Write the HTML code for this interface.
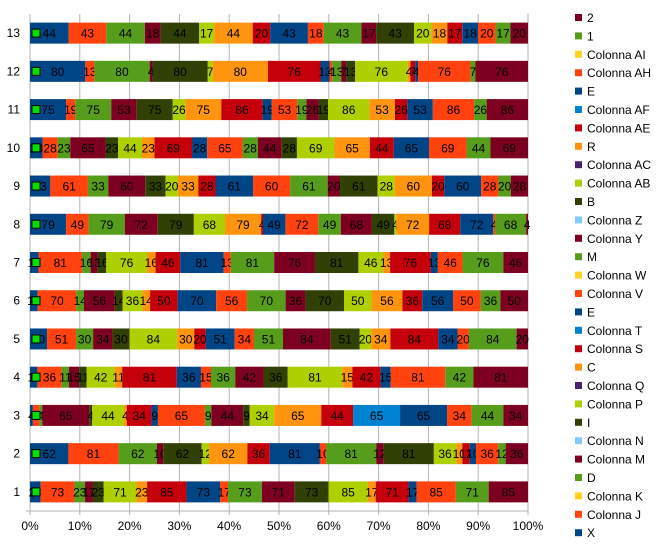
<!DOCTYPE html>
<html><head><meta charset="utf-8"><style>
body{margin:0;background:#fff;font-family:"Liberation Sans",sans-serif}
svg text{font-family:"Liberation Sans",sans-serif}
</style></head><body>
<svg id="c" width="665" height="552"></svg>
<script>
const categories=["1","2","3","4","5","6","7","8","9","10","11","12","13"];
const sX=[23,62,4,11,30,14,16,79,33,23,75,80,44];
const sColJ=[73,81,9,36,51,70,81,49,61,28,19,13,43];
const sColK=[0,0,0,0,0,0,0,0,0,0,0,0,0];
const sD=[23,62,4,11,30,14,16,79,33,23,75,80,44];
const sColM=[17,10,65,15,34,56,13,72,60,65,53,4,18];
const sColN=[0,0,0,0,0,0,0,0,0,0,0,0,0];
const sI=[23,62,4,11,30,14,16,79,33,23,75,80,44];
const sColP=[71,12,44,42,84,36,76,68,20,44,26,7,17];
const sColQ=[0,0,0,0,0,0,0,0,0,0,0,0,0];
const sC=[23,62,4,11,30,14,16,79,33,23,75,80,44];
const sColS=[85,36,34,81,20,50,46,4,28,69,86,76,20];
const sColT=[0,0,0,0,0,0,0,0,0,0,0,0,0];
const sE=[73,81,9,36,51,70,81,49,61,28,19,13,43];
const sColV=[17,10,65,15,34,56,13,72,60,65,53,4,18];
const sColW=[0,0,0,0,0,0,0,0,0,0,0,0,0];
const sM=[73,81,9,36,51,70,81,49,61,28,19,13,43];
const sColY=[71,12,44,42,84,36,76,68,20,44,26,7,17];
const sColZ=[0,0,0,0,0,0,0,0,0,0,0,0,0];
const sB=[73,81,9,36,51,70,81,49,61,28,19,13,43];
const sColAB=[85,36,34,81,20,50,46,4,28,69,86,76,20];
const sColAC=[0,0,0,0,0,0,0,0,0,0,0,0,0];
const sR=[17,10,65,15,34,56,13,72,60,65,53,4,18];
const sColAE=[71,12,44,42,84,36,76,68,20,44,26,7,17];
const sColAF=[0,0,65,0,0,0,0,0,0,0,0,0,0];
const sE2=[17,10,65,15,34,56,13,72,60,65,53,4,18];
const sColAH=[85,36,34,81,20,50,46,4,28,69,86,76,20];
const sColAI=[0,0,0,0,0,0,0,0,0,0,0,0,0];
const s1=[71,12,44,42,84,36,76,68,20,44,26,7,17];
const s2=[85,36,34,81,20,50,46,4,28,69,86,76,20];
const seriesNames=["X","Colonna J","Colonna K","D","Colonna M","Colonna N","I","Colonna P","Colonna Q","C","Colonna S","Colonna T","E","Colonna V","Colonna W","M","Colonna Y","Colonna Z","B","Colonna AB","Colonna AC","R","Colonna AE","Colonna AF","E","Colonna AH","Colonna AI","1","2"];
const seriesData=[sX,sColJ,sColK,sD,sColM,sColN,sI,sColP,sColQ,sC,sColS,sColT,sE,sColV,sColW,sM,sColY,sColZ,sB,sColAB,sColAC,sR,sColAE,sColAF,sE2,sColAH,sColAI,s1,s2];
const xTicks=["0%","10%","20%","30%","40%","50%","60%","70%","80%","90%","100%"];
const palette=["#004586","#ff420e","#ffd320","#579d1c","#7e0021","#83caff","#314004","#aecf00","#4b1f6f","#ff950e","#c5000b","#0084d1"];
const NS="http://www.w3.org/2000/svg";
const svg=document.getElementById('c');
function mk(t,a,p){const e=document.createElementNS(NS,t);for(const k in a)e.setAttribute(k,a[k]);(p||svg).appendChild(e);return e;}
const L=30,R=528,T=14,B=511;
const band=(B-T)/categories.length,barH=21;
const xs=f=>L+f*(R-L);
const yc=i=>B-band*(i+0.5);
const grid=mk('g',{});


xTicks.forEach((t,i)=>{const x=xs(i/10);
 const l=mk('line',{x1:x,x2:x,y1:T,y2:B+4,stroke:'#b3b3b3','stroke-width':1},grid);
 
 
 const tx=mk('text',{x:x,y:530,'font-size':12,'text-anchor':'middle',fill:'#000'});
 tx.textContent=t;
 
 
});
mk('line',{x1:L,x2:L,y1:T,y2:B,stroke:'#b3b3b3'});
mk('line',{x1:L-4,x2:R,y1:B,y2:B,stroke:'#b3b3b3'});
categories.forEach((c,i)=>{
 const tx=mk('text',{x:20,y:yc(i)+4,'font-size':12,'text-anchor':'end'});
 tx.textContent=c;
 
 
 let tot=0;seriesData.forEach(s=>tot+=s[i]);
 let acc=0;
 seriesData.forEach((s,k)=>{const v=s[i];if(!v)return;
  const x0=xs(acc/tot),x1=xs((acc+v)/tot);acc+=v;
  const r=mk('rect',{x:x0,y:yc(i)-barH/2,width:x1-x0,height:barH,fill:palette[k%12]});
  
  
  const t=mk('text',{x:(x0+x1)/2,y:yc(i)+4.5,'font-size':12,'text-anchor':'middle',fill:'#000'});
  t.textContent=v;
  
  
 });
 const m=mk('rect',{x:32,y:yc(i)-4,width:8,height:8,fill:'#00e000',stroke:'#000','stroke-width':1});
 
 
});
const lg=mk('g',{});


for(let k=seriesNames.length-1,j=0;k>=0;k--,j++){
 const y=18+j*18.4;
 const r=mk('rect',{x:575,y:y-4,width:7,height:7,fill:palette[k%12]},lg);
 
 
 const t=mk('text',{x:587,y:y+4,'font-size':12},lg);
 t.textContent=seriesNames[k];
 
 
}
</script>
</body></html>
